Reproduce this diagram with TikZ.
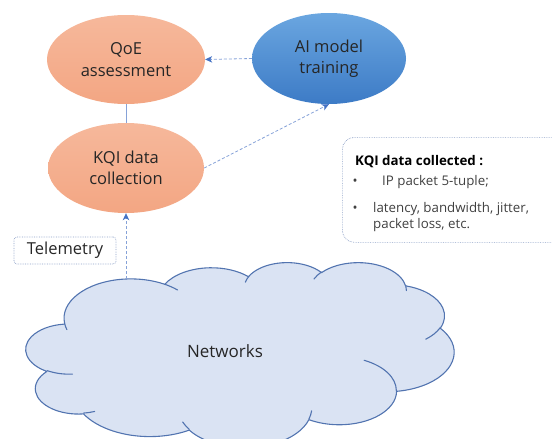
\documentclass[tikz,border=0pt]{standalone}
\usepackage{fontspec}
\setmainfont{Open Sans}
\usetikzlibrary{shapes.geometric,arrows.meta}

\definecolor{salmonT}{HTML}{F6B89B}
\definecolor{salmonB}{HTML}{F3A683}
\definecolor{skyT}{HTML}{6AA6E0}
\definecolor{skyB}{HTML}{3D7BC6}
\definecolor{linkblue}{HTML}{86A2D8}
\definecolor{tipblue}{HTML}{4472C4}
\definecolor{cloudfill}{HTML}{DAE3F3}
\definecolor{cloudline}{HTML}{5274B0}
\definecolor{boxline}{HTML}{8CA0C6}
\definecolor{ink}{HTML}{262626}
\definecolor{softink}{HTML}{404040}

% Elliptic arc of the cloud outline: radii (in hundredths of the shape
% grid), visual start angle and sweep (degrees, y pointing down).
% Converts to parametric angles for TikZ and scales to the cloud box.
\newcommand\oocalc[4]{%
  \pgfmathsetmacro\ooa{atan2((#1)*sin(#3),(#2)*cos(#3))}%
  \pgfmathsetmacro\oob{atan2((#1)*sin((#3)+(#4)),(#2)*cos((#3)+(#4)))}%
  \pgfmathsetmacro\ood{mod((\oob)-(\ooa)+720,360)}%
  \pgfmathsetmacro\oos{-1*(\ooa)}%
  \pgfmathsetmacro\ooe{-1*(\ooa)-(\ood)}%
  \pgfmathsetmacro\oorx{(#1)*0.990741}%
  \pgfmathsetmacro\oory{(#2)*0.428241}%
}
\newcommand\oodef[5]{%
  \oocalc{#2}{#3}{#4}{#5}%
  \expandafter\let\csname oo#1s\endcsname\oos
  \expandafter\let\csname oo#1e\endcsname\ooe
  \expandafter\let\csname oo#1x\endcsname\oorx
  \expandafter\let\csname oo#1y\endcsname\oory
}

\begin{document}
\begin{tikzpicture}[x=1pt,y=-1pt,
  bubble/.style={ellipse,inner sep=0pt,text=ink,align=center,
    font=\fontsize{16.5}{21.5}\selectfont},
  warm/.style={bubble,top color=salmonT,bottom color=salmonB},
  cool/.style={bubble,top color=skyT,bottom color=skyB},
  flow/.style={draw=linkblue,line width=0.8pt,dash pattern=on 3pt off 2pt,
    -{Stealth[length=7pt,width=6.5pt,inset=2pt,color=tipblue]}},
  tie/.style={draw=linkblue,line width=0.9pt},
  tag/.style={draw=boxline,densely dotted,line width=0.7pt,rounded corners=3pt,
    minimum width=102pt,minimum height=27pt,inner sep=0pt,text=ink,
    font=\fontsize{16.5}{20}\selectfont},
  panel/.style={draw=boxline,densely dotted,line width=0.7pt,rounded corners=12pt,
    inner sep=0pt},
  small/.style={inner sep=0pt,text=softink,font=\fontsize{13.3}{16}\selectfont},
  smallhead/.style={inner sep=0pt,text=black,font=\fontsize{13.3}{16}\selectfont\bfseries},
  cloudedge/.style={draw=cloudline,line width=1.1pt,line join=round},
]
\path[use as bounding box,clip] (0,0) rectangle (552,439);

% ---- cloud outline arcs ----
\oodef{A}{67.53}{91.90}{-190.4875}{123.7805}
\oodef{B}{53.33}{72.67}{-144.1024}{89.9452}
\oodef{C}{43.65}{59.45}{-145.8079}{99.7230}
\oodef{D}{48.57}{65.95}{-130.9861}{117.2417}
\oodef{E}{53.33}{72.73}{-78.7089}{109.0269}
\oodef{F}{67.75}{92.20}{-46.2673}{130.2690}
\oodef{G}{57.85}{78.67}{0.6250}{114.0333}
\oodef{H}{67.52}{92.15}{22.4516}{115.1726}
\oodef{I}{77.20}{105.43}{66.2426}{75.7110}
\oodef{J}{43.60}{59.18}{-274.9421}{146.7356}
\oodef{K}{43.45}{59.45}{-246.8285}{152.5189}
% ---- inner folds of the cloud ----
\oodef{L}{43.45}{59.45}{86.7420}{26.4295}
\oodef{M}{43.60}{59.18}{73.6105}{11.4475}
\oodef{N}{67.52}{92.15}{137.6242}{14.0811}
\oodef{O}{67.52}{92.15}{6.4533}{15.9984}
\oodef{P}{57.85}{78.67}{-70.2924}{70.9174}
\oodef{Q}{53.33}{72.73}{30.3180}{27.7515}
\oodef{R}{48.57}{65.95}{-13.7443}{14.8501}
\oodef{S}{48.57}{65.95}{-149.1815}{18.1959}
\oodef{T}{43.65}{59.45}{-163.4943}{17.6980}
\oodef{U}{67.53}{91.90}{-66.7070}{12.3194}
\oodef{V}{67.53}{91.90}{157.6544}{11.8582}

\coordinate (c0)  at ({26+39.00*0.990741},{262+143.70*0.428241});
\coordinate (f1)  at ({26+46.93*0.990741},{262+261.77*0.428241});
\coordinate (f2)  at ({26+69.28*0.990741},{262+348.99*0.428241});
\coordinate (f3)  at ({26+164.78*0.990741},{262+390.90*0.428241});
\coordinate (f4)  at ({26+288.27*0.990741},{262+347.51*0.428241});
\coordinate (f5)  at ({26+341.29*0.990741},{262+229.54*0.428241});
\coordinate (f6)  at ({26+417.98*0.990741},{262+153.54*0.428241});
\coordinate (f7)  at ({26+383.24*0.990741},{262+54.26*0.428241});
\coordinate (f8)  at ({26+290.78*0.990741},{262+39.52*0.428241});
\coordinate (f9)  at ({26+221.41*0.990741},{262+47.20*0.428241});
\coordinate (f10) at ({26+140.00*0.990741},{262+51.92*0.428241});
\coordinate (f11) at ({26+41.27*0.990741},{262+157.89*0.428241});

\path[cloudedge,fill=cloudfill] (c0)
  arc[start angle=\ooAs,end angle=\ooAe,x radius=\ooAx pt,y radius=\ooAy pt]
  arc[start angle=\ooBs,end angle=\ooBe,x radius=\ooBx pt,y radius=\ooBy pt]
  arc[start angle=\ooCs,end angle=\ooCe,x radius=\ooCx pt,y radius=\ooCy pt]
  arc[start angle=\ooDs,end angle=\ooDe,x radius=\ooDx pt,y radius=\ooDy pt]
  arc[start angle=\ooEs,end angle=\ooEe,x radius=\ooEx pt,y radius=\ooEy pt]
  arc[start angle=\ooFs,end angle=\ooFe,x radius=\ooFx pt,y radius=\ooFy pt]
  arc[start angle=\ooGs,end angle=\ooGe,x radius=\ooGx pt,y radius=\ooGy pt]
  arc[start angle=\ooHs,end angle=\ooHe,x radius=\ooHx pt,y radius=\ooHy pt]
  arc[start angle=\ooIs,end angle=\ooIe,x radius=\ooIx pt,y radius=\ooIy pt]
  arc[start angle=\ooJs,end angle=\ooJe,x radius=\ooJx pt,y radius=\ooJy pt]
  arc[start angle=\ooKs,end angle=\ooKe,x radius=\ooKx pt,y radius=\ooKy pt]
  -- cycle;

\path[cloudedge,line cap=round]
  (f1)  arc[start angle=\ooLs,end angle=\ooLe,x radius=\ooLx pt,y radius=\ooLy pt]
  (f2)  arc[start angle=\ooMs,end angle=\ooMe,x radius=\ooMx pt,y radius=\ooMy pt]
  (f3)  arc[start angle=\ooNs,end angle=\ooNe,x radius=\ooNx pt,y radius=\ooNy pt]
  (f4)  arc[start angle=\ooOs,end angle=\ooOe,x radius=\ooOx pt,y radius=\ooOy pt]
  (f5)  arc[start angle=\ooPs,end angle=\ooPe,x radius=\ooPx pt,y radius=\ooPy pt]
  (f6)  arc[start angle=\ooQs,end angle=\ooQe,x radius=\ooQx pt,y radius=\ooQy pt]
  (f7)  arc[start angle=\ooRs,end angle=\ooRe,x radius=\ooRx pt,y radius=\ooRy pt]
  (f8)  arc[start angle=\ooSs,end angle=\ooSe,x radius=\ooSx pt,y radius=\ooSy pt]
  (f9)  arc[start angle=\ooTs,end angle=\ooTe,x radius=\ooTx pt,y radius=\ooTy pt]
  (f10) arc[start angle=\ooUs,end angle=\ooUe,x radius=\ooUx pt,y radius=\ooUy pt]
  (f11) arc[start angle=\ooVs,end angle=\ooVe,x radius=\ooVx pt,y radius=\ooVy pt];

\node[inner sep=0pt,text=ink,font=\fontsize{17}{20}\selectfont] (net) at (225,351) {Networks};

% ---- process bubbles ----
\node[warm,minimum width=158pt,minimum height=89pt] (qoe) at (126,59.5) {QoE\\assessment};
\node[cool,minimum width=154pt,minimum height=91pt] (ai) at (329,58.5) {AI model\\training};
\node[warm,minimum width=156pt,minimum height=90pt] (kqi) at (126,168) {KQI data\\collection};

% ---- connectors ----
\coordinate (src) at (126,279);
\draw[tie] (qoe.south) -- (kqi.north);
\draw[flow] (ai.west) -- (qoe.east);
\draw[flow] (kqi.east) -- (ai.south);
\draw[flow] (src) -- (kqi.south);

% ---- labels ----
\node[tag] (tele) at (65,250.5) {Telemetry};

\node[panel,anchor=north west,minimum width=240pt,minimum height=105pt] (info) at (342,137) {};
\node[smallhead,anchor=base west] (infohead) at (355,165) {KQI data collected :};
\node[small,anchor=base] (dot1) at (355,185) {•};
\node[small,anchor=base west] (item1) at (382,185) {IP packet 5-tuple;};
\node[small,anchor=base] (dot2) at (355,212) {•};
\node[small,anchor=base west] (item2) at (373,212) {latency, bandwidth, jitter,};
\node[small,anchor=base west] (item3) at (373,228) {packet loss, etc.};
\end{tikzpicture}
\end{document}
